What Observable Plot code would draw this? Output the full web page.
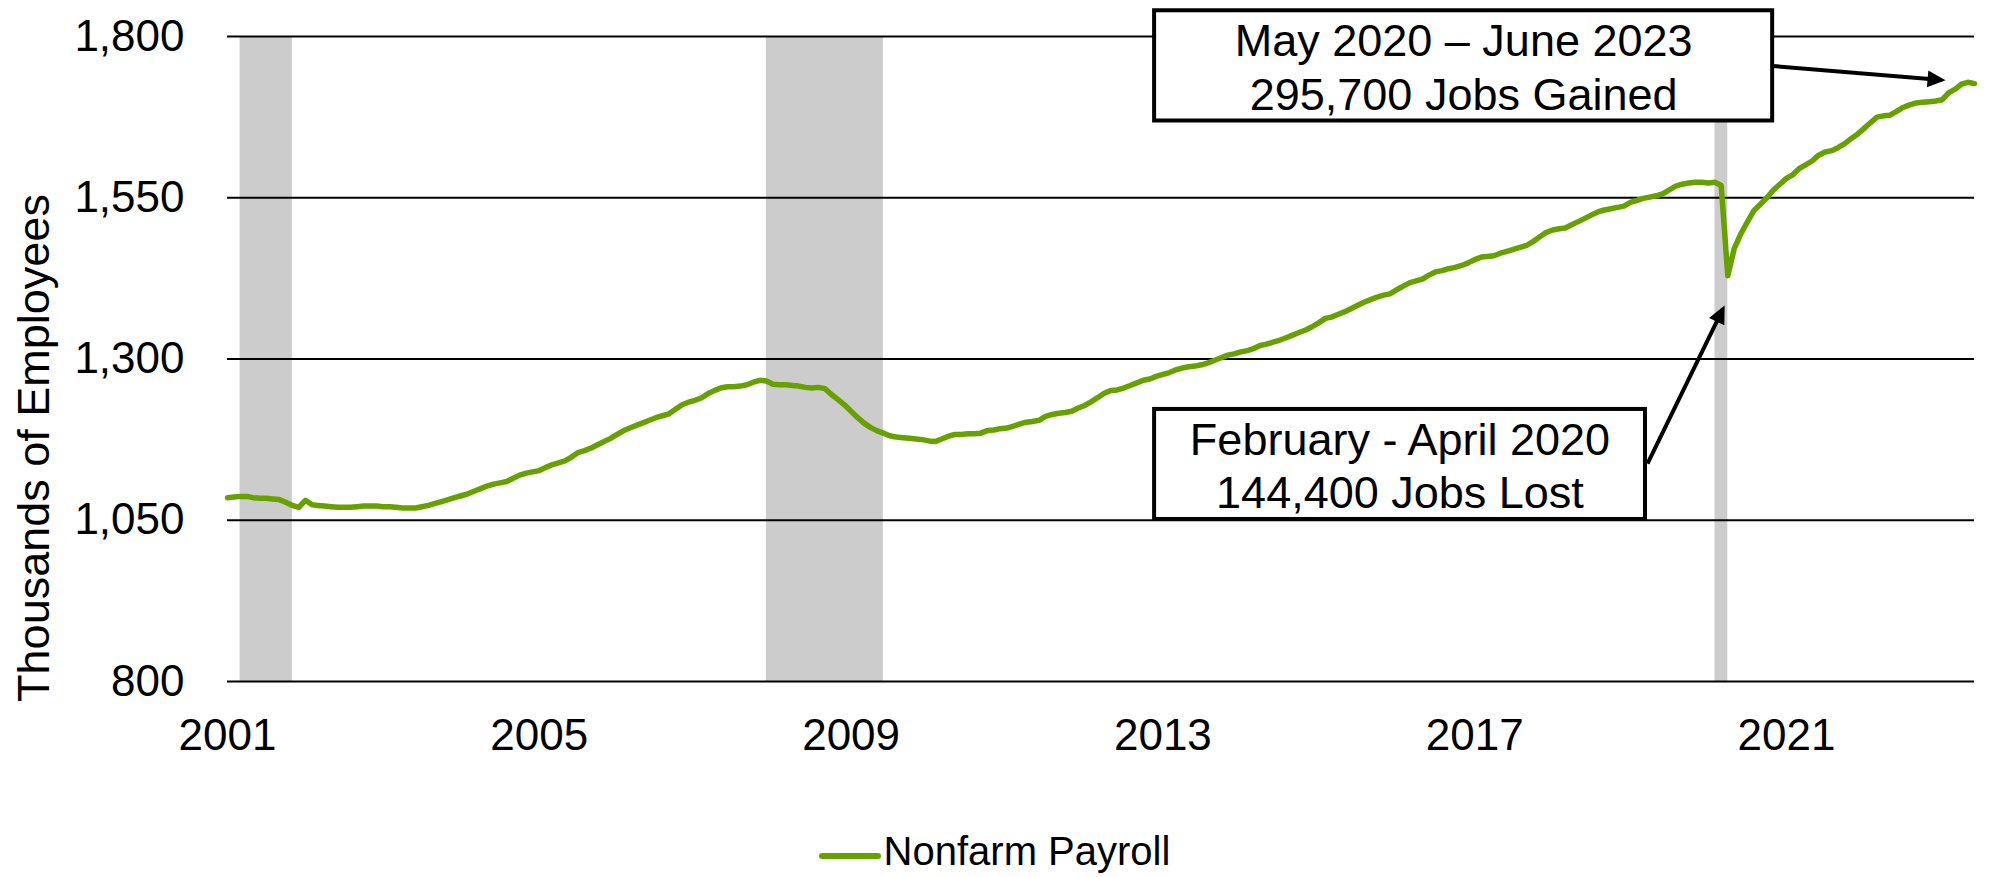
<!DOCTYPE html>
<html>
<head>
<meta charset="utf-8">
<script src="https://cdn.jsdelivr.net/npm/d3@7"></script>
<script src="https://cdn.jsdelivr.net/npm/@observablehq/plot@0.6"></script>
<style>
  html, body { margin: 0; padding: 0; background: #fff; }
  #wrap { width: 1989px; height: 877px; position: relative; font-family: "Liberation Sans", Arial, sans-serif; color: #000; }
  #legend { position: absolute; left: 0; top: 800px; width: 1989px; height: 77px; display: flex; justify-content: center; align-items: flex-start; padding-top: 28px; box-sizing: border-box; }
  #legend svg { margin-top: 24px; margin-right: 3px; display: block; }
  #legend span { font-size: 40px; line-height: 46px; }
</style>
</head>
<body>
<div id="wrap"><div id="legend"></div></div>
<script>
// ---- Data (thousands of employees, monthly, Jan 2001 – Jun 2023) ----
const startMonth = "2001-01";
const payroll = [
  // 2001
  1085, 1086, 1087, 1087, 1085, 1084, 1084, 1083, 1082, 1078, 1073, 1070,
  // 2002
  1081, 1074, 1073, 1072, 1071, 1070, 1070, 1070, 1071, 1072, 1072, 1072,
  // 2003
  1071, 1071, 1070, 1069, 1069, 1069, 1071, 1073, 1076, 1079, 1082, 1085,
  // 2004
  1088, 1091, 1095, 1099, 1103, 1106, 1108, 1110, 1115, 1120, 1123, 1125,
  // 2005
  1127, 1132, 1136, 1139, 1142, 1148, 1155, 1158, 1162, 1167, 1172, 1177,
  // 2006
  1183, 1189, 1193, 1197, 1201, 1205, 1209, 1212, 1215, 1222, 1229, 1233,
  // 2007
  1236, 1240, 1246, 1251, 1255, 1257, 1257, 1258, 1260, 1264, 1267, 1266,
  // 2008
  1261, 1260, 1260, 1259, 1258, 1256, 1255, 1256, 1254, 1245, 1237, 1229,
  // 2009
  1219, 1209, 1201, 1194, 1189, 1185, 1181, 1179, 1178, 1177, 1176, 1175,
  // 2010
  1173, 1172, 1176, 1180, 1183, 1183, 1184, 1184, 1185, 1189, 1190, 1192,
  // 2011
  1193, 1196, 1199, 1202, 1203, 1205, 1211, 1214, 1216, 1217, 1219, 1224,
  // 2012
  1228, 1234, 1240, 1247, 1251, 1252, 1255, 1259, 1263, 1267, 1269, 1273,
  // 2013
  1276, 1279, 1283, 1286, 1288, 1289, 1291, 1294, 1298, 1302, 1306, 1308,
  // 2014
  1311, 1313, 1316, 1321, 1323, 1326, 1329, 1333, 1337, 1341, 1345, 1350,
  // 2015
  1356, 1363, 1365, 1369, 1373, 1378, 1383, 1388, 1392, 1396, 1399, 1401,
  // 2016
  1407, 1413, 1418, 1421, 1424, 1430, 1435, 1437, 1440, 1442, 1445, 1449,
  // 2017
  1454, 1458, 1459, 1460, 1464, 1467, 1470, 1473, 1476, 1482, 1489, 1496,
  // 2018
  1500, 1502, 1503, 1508, 1513, 1518, 1523, 1528, 1531, 1533, 1535, 1537,
  // 2019
  1543, 1546, 1549, 1551, 1553, 1556, 1562, 1568, 1571, 1573, 1574, 1574,
  // 2020
  1573, 1574, 1569, 1429, 1471, 1494, 1512, 1530, 1540, 1550, 1562, 1571,
  // 2021
  1580, 1586, 1595, 1601, 1607, 1616, 1621, 1623, 1628, 1634, 1642, 1649,
  // 2022
  1658, 1667, 1675, 1677, 1678, 1684, 1690, 1694, 1697, 1698, 1699, 1700,
  // 2023
  1702, 1713, 1718, 1726, 1729, 1727
];

const recessions = [
  {start: "2001-03-01", end: "2001-11-01"},
  {start: "2007-12-01", end: "2009-06-01"},
  {start: "2020-02-01", end: "2020-04-01"}
];

const yTicks = [800, 1050, 1300, 1550, 1800];
const xTickYears = [2001, 2005, 2009, 2013, 2017, 2021];
const seriesName = "Nonfarm Payroll";
const yTitle = "Thousands of Employees";

// Callouts (anchors in data units: fractional years, thousands)
const calloutBoxes = [
  {x1: 2012.894, x2: 2020.823, y1: 1669.0, y2: 1839.9, label: "May 2020 – June 2023\n295,700 Jobs Gained"},
  {x1: 2012.894, x2: 2019.193, y1: 1051.2, y2: 1221.8, label: "February - April 2020\n144,400 Jobs Lost"}
];
const calloutArrows = [
  {x1: 2020.823, y1: 1754.3, x2: 2022.991, y2: 1732.5},
  {x1: 2019.219, y1: 1137.6, x2: 2020.185, y2: 1377.5}
];

// ---- Build ----
const green = "#66a100";
const parseMonth = d3.utcParse("%Y-%m");
const parseDay = d3.utcParse("%Y-%m-%d");
const t0 = parseMonth(startMonth);
const series = payroll.map((v, i) => ({date: d3.utcMonth.offset(t0, i), value: v}));
const bands = recessions.map(d => ({start: parseDay(d.start), end: parseDay(d.end)}));
const xTicks = xTickYears.map(y => new Date(Date.UTC(y, 0, 1)));
const fy = f => { const y = Math.floor(f); const a = Date.UTC(y, 0, 1), b = Date.UTC(y + 1, 0, 1); return new Date(a + (f - y) * (b - a)); };
const boxes = calloutBoxes.map(d => ({x1: fy(d.x1), x2: fy(d.x2), y1: d.y1, y2: d.y2, xm: fy((d.x1 + d.x2) / 2), ym: (d.y1 + d.y2) / 2, label: d.label}));
const arrows = calloutArrows.map(d => ({x1: fy(d.x1), x2: fy(d.x2), y1: d.y1, y2: d.y2}));

function arrowHead(color, context) {
  const doc = (context && context.document) || document;
  const ns = "http://www.w3.org/2000/svg";
  const m = doc.createElementNS(ns, "marker");
  m.setAttribute("viewBox", "-15 -10 20 20");
  m.setAttribute("markerWidth", 20);
  m.setAttribute("markerHeight", 20);
  m.setAttribute("markerUnits", "userSpaceOnUse");
  m.setAttribute("refX", 0);
  m.setAttribute("refY", 0);
  m.setAttribute("orient", "auto");
  const p = doc.createElementNS(ns, "path");
  p.setAttribute("d", "M-14,-8.5L4,0L-14,8.5Z");
  p.setAttribute("fill", color);
  p.setAttribute("stroke", "none");
  m.appendChild(p);
  return m;
}

const chart = Plot.plot({
  width: 1989,
  height: 800,
  marginLeft: 227,
  marginRight: 15,
  marginTop: 36,
  marginBottom: 119,
  style: {fontFamily: "'Liberation Sans', Arial, sans-serif", background: "#fff", color: "#000", overflow: "visible"},
  x: {type: "utc", domain: [series[0].date, series[series.length - 1].date]},
  y: {domain: [800, 1800]},
  marks: [
    Plot.rect(bands, {x1: "start", x2: "end", fill: "#cccccc"}),
    Plot.ruleY(yTicks, {stroke: "#000", strokeWidth: 2}),
    Plot.lineY(series, {x: "date", y: "value", stroke: green, strokeWidth: 5.5, strokeLinejoin: "round", strokeLinecap: "round"}),
    Plot.axisY(yTicks, {tickSize: 0, tickPadding: 43, fontSize: 44, tickFormat: d3.format(","), label: null, fill: "#000"}),
    Plot.axisX(xTicks, {tickSize: 0, tickPadding: 37, fontSize: 44, tickFormat: d3.utcFormat("%Y"), label: null, fill: "#000"}),
    Plot.text([yTitle], {frameAnchor: "left", rotate: -90, textAnchor: "middle", lineAnchor: "middle", dx: -193, dy: 89, fontSize: 45, fill: "#000"}),
    Plot.rect(boxes, {x1: "x1", x2: "x2", y1: "y1", y2: "y2", fill: "#fff", stroke: "#000", strokeWidth: 4}),
    Plot.text(boxes, {x: "xm", y: "ym", text: "label", fontSize: 45, lineHeight: 1.19, textAnchor: "middle", lineAnchor: "middle", fill: "#000"}),
    Plot.link(arrows, {x1: "x1", y1: "y1", x2: "x2", y2: "y2", stroke: "#000", strokeWidth: 4, markerEnd: arrowHead})
  ]
});
document.getElementById("wrap").prepend(chart);

// Legend
const legend = document.getElementById("legend");
const sw = d3.create("svg").attr("width", 62).attr("height", 8);
sw.append("line").attr("x1", 3).attr("x2", 59).attr("y1", 4).attr("y2", 4)
  .attr("stroke", green).attr("stroke-width", 6).attr("stroke-linecap", "round");
legend.appendChild(sw.node());
const lab = document.createElement("span");
lab.textContent = seriesName;
legend.appendChild(lab);
</script>
</body>
</html>
